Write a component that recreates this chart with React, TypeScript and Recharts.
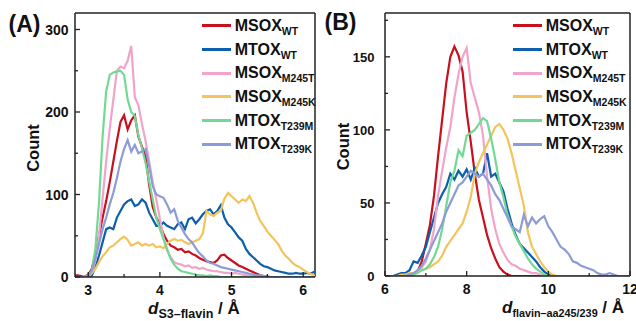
import React from 'react'
import { LineChart, Line, XAxis, YAxis, Legend, ReferenceArea, CartesianGrid } from 'recharts'

const FONT = '"Liberation Sans", Arial, Helvetica, sans-serif'
const AXIS = '#222'
const INK = '#111'

const SERIES_KEYS = ['msoxWT', 'mtoxWT', 'msoxM245T', 'msoxM245K', 'mtoxT239M', 'mtoxT239K']
const SERIES_BASE = ['MSOX', 'MTOX', 'MSOX', 'MSOX', 'MTOX', 'MTOX']
const SERIES_SUB = ['WT', 'WT', 'M245T', 'M245K', 'T239M', 'T239K']
const COLORS = ['#c8101e', '#0d5fab', '#f2a3c9', '#f3c45c', '#72d994', '#8d9bd6']

// panel A: d(S3-flavin), bins every 0.05 Å from 2.80 to 6.20
const A_START = 2.8
const A_STEP = 0.05
const A_MSOX_WT = [
  2, 2, 1, 0,
  3, 10, 28, 50, 72, 92, 115, 140, 165, 188,
  196, 179, 190, 196, 170, 158, 146, 112, 85, 72,
  64, 52, 44, 38, 36, 33, 34, 30, 31, 28,
  26, 23, 21, 19, 18, 17, 20, 26, 27, 23,
  20, 17, 14, 12, 10, 8, 6, 4, 2, 1,
  0, 0, 0, 0, 0, 0, 0, 0, 0, 0,
  0, 0, 0, 0, 0,
]
const A_MTOX_WT = [
  0, 0, 0, 0,
  0, 2, 12, 26, 42, 58, 60, 58, 72, 80,
  88, 92, 94, 86, 88, 94, 90, 78, 70, 62,
  62, 66, 62, 60, 58, 64, 66, 58, 70, 72,
  65, 70, 76, 80, 82, 76, 80, 87, 72, 64,
  60, 54, 48, 44, 34, 28, 24, 20, 16, 13,
  12, 10, 8, 7, 6, 5, 4, 4, 5, 4,
  4, 5, 4, 6, 8,
]
const A_MSOX_M245T = [
  0, 0, 0, 0,
  0, 5, 20, 50, 95, 140, 180, 215, 250, 255,
  253, 262, 280, 218, 208, 185, 165, 140, 115, 94,
  70, 48, 32, 24, 18, 16, 15, 13, 14, 11,
  12, 10, 11, 9, 8, 7, 7, 6, 5, 5,
  4, 5, 4, 3, 2, 2, 1, 1, 0, 0,
  0, 0, 0, 0, 0, 0, 0, 0, 0, 0,
  0, 0, 0, 0, 0,
]
const A_MSOX_M245K = [
  0, 0, 0, 0,
  2, 5, 10, 18, 25, 30, 36, 38, 42, 46,
  49, 45, 38, 40, 42, 38, 40, 38, 40, 36,
  37, 35, 40, 44, 46, 44, 45, 42, 40, 42,
  44, 46, 53, 80, 76, 74, 78, 80, 95, 102,
  98, 94, 90, 94, 92, 98, 90, 78, 68, 62,
  55, 50, 45, 40, 32, 26, 22, 17, 14, 12,
  9, 6, 4, 2, 0,
]
const A_MTOX_T239M = [
  0, 0, 0, 0,
  1, 8, 35, 90, 170, 225, 245, 248, 249, 250,
  245, 215, 200, 195, 172, 156, 138, 116, 94, 72,
  58, 46, 34, 22, 15, 10, 7, 6, 5, 4,
  3, 2, 2, 1, 2, 1, 1, 0, 0, 0,
  0, 0, 0, 0, 0, 0, 0, 0, 0, 0,
  0, 0, 0, 0, 0, 0, 0, 0, 0, 0,
  0, 0, 0, 0, 0,
]
const A_MTOX_T239K = [
  0, 0, 0, 0,
  2, 8, 22, 40, 58, 72, 88, 102, 120, 140,
  155, 166, 152, 160, 150, 152, 155, 135, 110, 100,
  98, 96, 88, 78, 82, 68, 60, 52, 46, 42,
  35, 29, 25, 20, 17, 16, 14, 12, 11, 10,
  9, 8, 7, 6, 5, 4, 3, 2, 2, 1,
  1, 0, 0, 0, 0, 0, 0, 0, 0, 0,
  0, 0, 0, 0, 0,
]

// panel B: d(flavin-aa245/239), bins every 0.1 Å from 6.0 to 12.0
const B_START = 6
const B_STEP = 0.1
const B_MSOX_WT = [
  0, 0, 0, 0, 0, 0, 0, 1, 3, 10,
  22, 35, 55, 82, 107, 132, 150, 157, 151, 140,
  112, 92, 70, 52, 40, 28, 19, 12, 6, 3,
  1, 0, 0, 0, 0, 0, 0, 0, 0, 0,
  0, 0, 0, 0, 0, 0, 0, 0, 0, 0,
  0, 0, 0, 0, 0, 0, 0, 0, 0, 0,
  0,
]
const B_MTOX_WT = [
  0, 0, 0, 1, 2, 2, 4, 10, 9, 14,
  20, 30, 40, 50, 56, 61, 70, 66, 72, 68,
  73, 66, 74, 68, 70, 84, 68, 70, 64, 58,
  46, 36, 28, 22, 19, 16, 13, 10, 6, 3,
  1, 0, 0, 0, 0, 0, 0, 0, 0, 0,
  0, 0, 0, 0, 0, 0, 0, 0, 0, 0,
  0,
]
const B_MSOX_M245T = [
  0, 0, 0, 0, 0, 0, 0, 1, 3, 6,
  10, 18, 32, 55, 72, 88, 102, 122, 138, 150,
  156, 132, 122, 112, 96, 68, 46, 32, 22, 16,
  11, 8, 7, 5, 4, 3, 2, 2, 1, 0,
  0, 0, 0, 0, 0, 0, 0, 0, 0, 0,
  0, 0, 0, 0, 0, 0, 0, 0, 0, 0,
  0,
]
const B_MSOX_M245K = [
  0, 0, 0, 0, 1, 1, 2, 2, 3, 4,
  5, 6, 8, 10, 14, 20, 24, 28, 32, 36,
  44, 54, 70, 78, 84, 90, 96, 102, 104, 100,
  94, 84, 72, 60, 48, 30, 20, 15, 10, 6,
  3, 1, 0, 0, 0, 0, 0, 0, 0, 0,
  0, 0, 0, 0, 0, 0, 0, 0, 0, 0,
  0,
]
const B_MTOX_T239M = [
  0, 0, 0, 0, 0, 0, 0, 1, 2, 4,
  5, 8, 13, 20, 32, 48, 64, 72, 86, 82,
  96, 98, 100, 104, 108, 106, 94, 80, 64, 54,
  42, 34, 27, 22, 17, 12, 8, 5, 3, 1,
  0, 0, 0, 0, 0, 0, 0, 0, 0, 0,
  0, 0, 0, 0, 0, 0, 0, 0, 0, 0,
  0,
]
const B_MTOX_T239K = [
  0, 0, 0, 0, 0, 0, 1, 2, 4, 7,
  12, 18, 24, 30, 36, 44, 50, 56, 62, 64,
  68, 72, 70, 68, 70, 66, 62, 56, 52, 46,
  40, 34, 32, 30, 42, 34, 40, 36, 39, 41,
  34, 30, 25, 20, 18, 15, 10, 9, 7, 6,
  5, 4, 2, 1, 1, 2, 1, 0, 0, 0,
  0,
]

const A_X_TICKS = [3, 3.5, 4, 4.5, 5, 5.5, 6]
const A_X_MAJOR = [3, 4, 5, 6]
const A_Y_TICKS = [0, 50, 100, 150, 200, 250, 300]
const A_Y_MAJOR = [0, 100, 200, 300]
const B_X_TICKS = [6, 7, 8, 9, 10, 11, 12]
const B_X_MAJOR = [6, 8, 10, 12]
const B_Y_TICKS = [0, 25, 50, 75, 100, 125, 150, 175]
const B_Y_MAJOR = [0, 50, 100, 150]

function buildRows(start: number, step: number, series: number[][]) {
  return series[0].map((_, i) => {
    const row: Record<string, number> = { x: +(start + i * step).toFixed(2) }
    SERIES_KEYS.forEach((k, j) => {
      row[k] = series[j][i]
    })
    return row
  })
}

const dataA = buildRows(A_START, A_STEP, [A_MSOX_WT, A_MTOX_WT, A_MSOX_M245T, A_MSOX_M245K, A_MTOX_T239M, A_MTOX_T239K])
const dataB = buildRows(B_START, B_STEP, [B_MSOX_WT, B_MTOX_WT, B_MSOX_M245T, B_MSOX_M245K, B_MTOX_T239M, B_MTOX_T239K])

// ticks point inward; minor ticks have no label
function leftTick(majors: number[], fontSize: number, gap: number) {
  return (props: any) => {
    const { x, y, payload } = props
    const major = majors.includes(payload.value)
    return (
      <g>
        <line x1={x} x2={x + (major ? 5 : 3)} y1={y} y2={y} stroke={AXIS} strokeWidth={1.3} />
        {major && (
          <text x={x - gap} y={y} dy="0.36em" textAnchor="end" fontSize={fontSize} fontWeight={700} fontFamily={FONT} fill={INK}>
            {payload.value}
          </text>
        )}
      </g>
    )
  }
}

function bottomTick(majors: number[], fontSize: number) {
  return (props: any) => {
    const { x, y, payload } = props
    const major = majors.includes(payload.value)
    return (
      <g>
        <line x1={x} x2={x} y1={y} y2={y - (major ? 5 : 3)} stroke={AXIS} strokeWidth={1.3} />
        {major && (
          <text x={x} y={y + 18} textAnchor="middle" fontSize={fontSize} fontWeight={700} fontFamily={FONT} fill={INK}>
            {payload.value}
          </text>
        )}
      </g>
    )
  }
}

function xLabel(sub: string, subSize: number, dx: number) {
  return (props: any) => {
    const vb = props.viewBox
    return (
      <text x={vb.x + dx} y={vb.y + 37} fontFamily={FONT} fontWeight={700} fill={INK}>
        <tspan fontStyle="italic" fontSize={17}>d</tspan>
        <tspan fontSize={subSize} dy={4}>{sub}</tspan>
        <tspan fontSize={17} dy={-4}>{'\u00a0/ Å'}</tspan>
      </text>
    )
  }
}

function yLabel(dx: number, dy: number) {
  return (props: any) => {
    const vb = props.viewBox
    const cx = vb.x + dx
    const cy = vb.y + vb.height / 2 + dy
    return (
      <text x={cx} y={cy} transform={`rotate(-90 ${cx} ${cy})`} textAnchor="middle" dominantBaseline="central"
        fontSize={16.5} fontWeight={700} fontFamily={FONT} fill={INK}>
        Count
      </text>
    )
  }
}

// frame edges taken from the chart's own layout
const rightEdge = (props: any) => (props && props.offset ? [props.offset.left + props.offset.width] : [])
const topEdge = (props: any) => (props && props.offset ? [props.offset.top] : [])

const renderLegend = (props: any) => {
  const payload = props.payload || []
  return (
    <div style={{ fontFamily: FONT, fontWeight: 700, color: INK, lineHeight: 1 }}>
      {SERIES_KEYS.map((key, i) => {
        const entry = payload.find((p: any) => p.dataKey === key)
        return (
          <div key={key} style={{ display: 'flex', alignItems: 'center', height: 23.7 }}>
            <span style={{ display: 'inline-block', width: 29, height: 3, background: entry ? entry.color : COLORS[i], marginRight: 4 }} />
            <span style={{ fontSize: 16, whiteSpace: 'nowrap' }}>
              {SERIES_BASE[i]}
              <span style={{ fontSize: 10.5, position: 'relative', top: 4 }}>{SERIES_SUB[i]}</span>
            </span>
          </div>
        )
      })}
    </div>
  )
}

interface PanelProps {
  data: Record<string, number>[]
  margin: { top: number; right: number; bottom: number; left: number }
  xDomain: [number, number]
  xTicks: number[]
  xMajor: number[]
  yDomain: [number, number]
  yTicks: number[]
  yMajor: number[]
  yFont: number
  yGap: number
  sub: string
  subSize: number
  labelDx: number
  countDx: number
  countDy: number
  legendLeft: number
}

function Panel(p: PanelProps) {
  return (
    <LineChart width={320} height={321} data={p.data} margin={p.margin}>
      <CartesianGrid stroke={AXIS} strokeWidth={1.5} verticalCoordinatesGenerator={rightEdge}
        horizontalCoordinatesGenerator={topEdge} />
      <XAxis dataKey="x" type="number" domain={p.xDomain} allowDataOverflow ticks={p.xTicks} interval={0}
        height={1} tickSize={0} tickMargin={0} tickLine={false} tick={bottomTick(p.xMajor, 14)}
        axisLine={{ stroke: AXIS, strokeWidth: 1.5 }} label={xLabel(p.sub, p.subSize, p.labelDx)} />
      <YAxis type="number" domain={p.yDomain} allowDataOverflow ticks={p.yTicks} interval={0}
        width={1} tickSize={0} tickMargin={0} tickLine={false} tick={leftTick(p.yMajor, p.yFont, p.yGap)}
        axisLine={{ stroke: AXIS, strokeWidth: 1.5 }} label={yLabel(p.countDx, p.countDy)} />
      {/* box around the whole plot area */}
      <ReferenceArea ifOverflow="visible" fill="none" stroke={AXIS} strokeWidth={1.5} />
      <Legend layout="vertical" align="center" verticalAlign="middle" content={renderLegend}
        wrapperStyle={{ left: p.legendLeft, top: 14, width: 130 }} />
      {SERIES_KEYS.map((key, i) => (
        <Line key={key} dataKey={key} name={key} type="linear" stroke={COLORS[i]}
          strokeWidth={2.2} dot={false} activeDot={false} isAnimationActive={false} />
      ))}
    </LineChart>
  )
}

const tagStyle: React.CSSProperties = {
  position: 'absolute', fontFamily: FONT, fontWeight: 700, fontSize: 23, lineHeight: 1, color: INK,
}

export default function App() {
  return (
    <div style={{ position: 'absolute', left: 0, top: 0, width: 636, height: 321, background: '#fff', overflow: 'hidden' }}>
      <div style={{ position: 'absolute', left: 316, top: 0, width: 320, height: 321 }}>
        <Panel data={dataB} margin={{ top: 13, right: 6, bottom: 44, left: 68 }}
          xDomain={[6, 12]} xTicks={B_X_TICKS} xMajor={B_X_MAJOR}
          yDomain={[0, 180]} yTicks={B_Y_TICKS} yMajor={B_Y_MAJOR} yFont={13} yGap={10.5}
          sub="flavin–aa245/239" subSize={10.8} labelDx={117} countDx={-41} countDy={2} legendLeft={196.7} />
      </div>
      <div style={{ position: 'absolute', left: 0, top: 0, width: 320, height: 321, zIndex: 1 }}>
        <Panel data={dataA} margin={{ top: 13, right: 5, bottom: 43, left: 74 }}
          xDomain={[2.815, 6.165]} xTicks={A_X_TICKS} xMajor={A_X_MAJOR}
          yDomain={[0, 320]} yTicks={A_Y_TICKS} yMajor={A_Y_MAJOR} yFont={14} yGap={6.5}
          sub="S3–flavin" subSize={12.5} labelDx={73} countDx={-41.5} countDy={3} legendLeft={201.7} />
      </div>
      <div style={{ ...tagStyle, left: 8.5, top: 12.7, zIndex: 2 }}>(A)</div>
      <div style={{ ...tagStyle, left: 324.5, top: 10.7, zIndex: 2 }}>(B)</div>
    </div>
  )
}
